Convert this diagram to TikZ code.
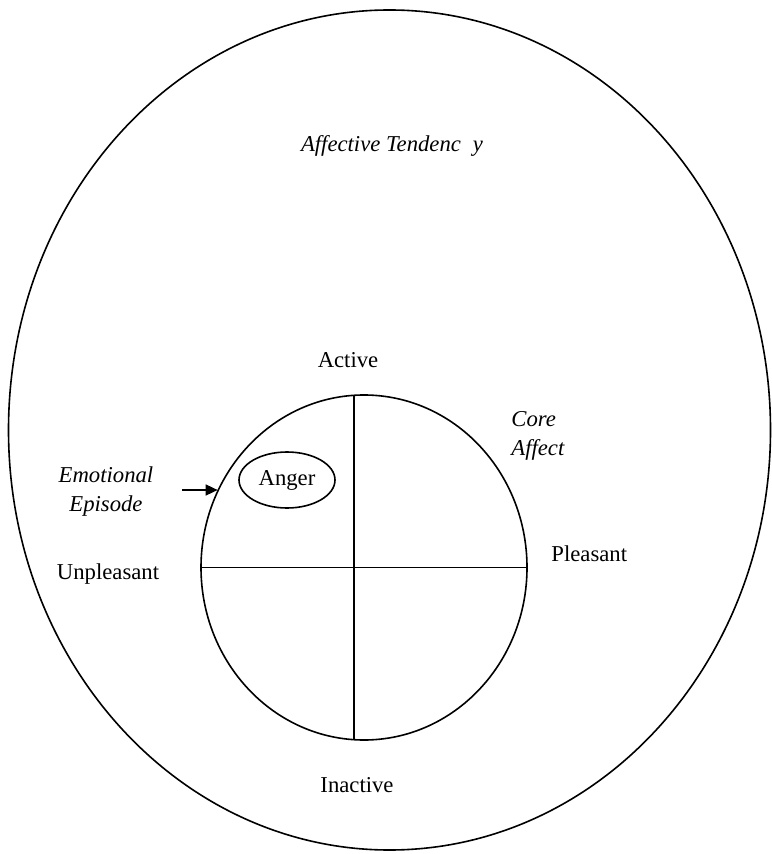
\documentclass[tikz,border=0pt]{standalone}
\usepackage{fontspec}
\setmainfont{Liberation Serif}
\usetikzlibrary{positioning,arrows.meta,shapes.geometric}

\begin{document}
\begin{tikzpicture}[
    x=0.5pt, y=-0.5pt,
    region/.style={draw, ellipse, line width=0.8pt, inner sep=0pt},
    lbl/.style={inner sep=0pt, font=\fontsize{11.35}{14.5}\selectfont},
    ilbl/.style={inner sep=0pt, font=\fontsize{11.35}{14.5}\selectfont\itshape},
    axis/.style={line width=0.8pt},
    arrow/.style={-{Triangle[length=6pt, width=5.5pt]}, line width=0.8pt}
]
\useasboundingbox (0,0) rectangle (771,854);
% Regions
\node[region, minimum width=381pt, minimum height=420pt] (tend) at (389.5,430) {};
\node[region, minimum width=163pt, minimum height=172.5pt] (core) at (364,567.5) {};
\node[region, minimum width=48pt, minimum height=28pt, font=\fontsize{11.35}{14.5}\selectfont] (anger) at (287,480) {Anger};

% Axes
\coordinate (act) at (354,395);
\coordinate (inact) at (354,740);
\draw[axis] (act) -- (inact);
\draw[axis] (core.west) -- (core.east);

% Labels
\node[ilbl, anchor=base] (tendlbl) at (392,152) {Affective Tendenc\hspace{6pt}y};
\node[lbl, anchor=base] (active) at (348,368) {Active};
\node[lbl, anchor=base] (inactive) at (357,792) {Inactive};
\node[lbl, anchor=base west] (pleasant) at (551,561) {Pleasant};
\node[lbl, anchor=base] (unpleasant) at (108,579) {Unpleasant};
\node[ilbl, align=left, anchor=west] (corelbl) at (511,436) {Core\\Affect};
\node[ilbl, align=center] (episode) at (106,492) {Emotional\\Episode};

% Arrows
\coordinate (episodetail) at (182,490);
\draw[arrow] (episodetail) -- (episodetail -| core.152);
\end{tikzpicture}
\end{document}
